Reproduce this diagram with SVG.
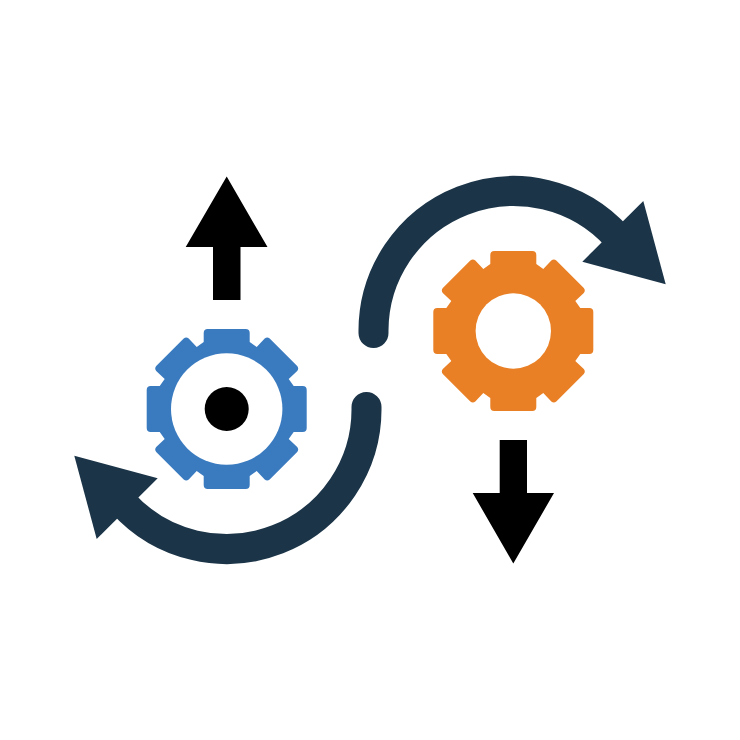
<svg xmlns="http://www.w3.org/2000/svg" width="740" height="740" viewBox="0 0 740 740">
<style>
.curve{fill:none;stroke:#1b3447;stroke-width:30;stroke-linecap:round}
.head{fill:#1b3447}
.black{fill:#000}
.hole{fill:#fff}
.blue{fill:#3a7bc0}
.orange{fill:#e98025}
</style>
<defs>
<path id="gear" d="M-19-80H19Q23-80 23-76V-67L30-62L38-70.500Q40.500-72.500 43-70.500L70.500-43Q72.500-40.500 70.500-38L62-30L67-23H76Q80-23 80-19V19Q80 23 76 23H67L62 30L70.500 38Q72.500 40.500 70.500 43L43 70.500Q40.500 72.500 38 70.500L30 62L23 67V76Q23 80 19 80H-19Q-23 80-23 76V67L-30 62L-38 70.500Q-40.500 72.500-43 70.500L-70.500 43Q-72.500 40.500-70.500 38L-62 30L-67 23H-76Q-80 23-80 19V-19Q-80-23-76-23H-67L-62-30L-70.500-38Q-72.500-40.500-70.500-43L-43-70.500Q-40.500-72.500-38-70.500L-30-62L-23-67V-76Q-23-80-19-80Z"/>
</defs>
<rect width="740" height="740" fill="#fff"/>
<g id="connectors">
<g id="curve-top"><path class="curve" d="M373.500 333A140 140 0 0 1 617.500 237.300"/><polygon class="head" points="643.300,201 665.700,284.300 582.300,261.700"/></g>
<g id="curve-bottom"><path class="curve" d="M366.500 407A140 140 0 0 1 122.500 502.700"/><polygon class="head" points="96.700,539 74.300,455.700 157.700,478.300"/></g>
<polygon id="arrow-up" class="black" points="226.700,176.500 267.500,247 240.500,247 240.500,300 213,300 213,247 185.700,247"/>
<polygon id="arrow-down" class="black" points="513.300,563.500 554,493 527,493 527,440 499.700,440 499.700,493 472.700,493"/>
</g>
<g id="gear-blue"><use href="#gear" class="blue" x="226.700" y="409"/><circle class="hole" cx="226.700" cy="409" r="55.700"/><circle class="black" cx="226.700" cy="409" r="22"/></g>
<g id="gear-orange"><use href="#gear" class="orange" x="513.300" y="331"/><circle class="hole" cx="513.300" cy="331" r="37.700"/></g>
</svg>
